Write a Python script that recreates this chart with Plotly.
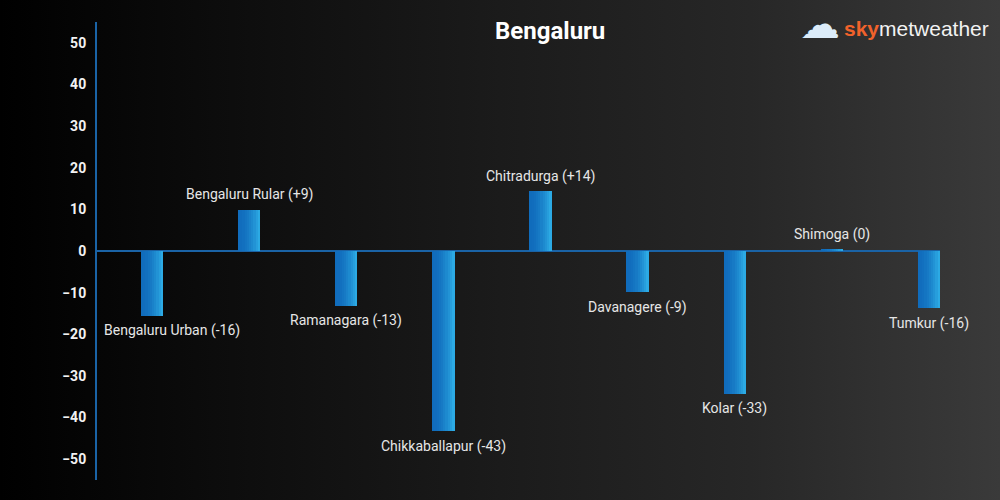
import base64
import plotly.graph_objects as go

# District rainfall departure (%), Bengaluru region
districts = [
    'Bengaluru Urban', 'Bengaluru Rular', 'Ramanagara', 'Chikkaballapur',
    'Chitradurga', 'Davanagere', 'Kolar', 'Shimoga', 'Tumkur'
]
bar_values = [-15.6, 9.9, -13.1, -43.3, 14.4, -9.9, -34.3, 0.4, -13.7]
label_values = ['-16', '+9', '-13', '-43', '+14', '-9', '-33', '0', '-16']

y_ticks = [-50, -40, -30, -20, -10, 0, 10, 20, 30, 40, 50]

# page geometry
W, H = 1000, 500
ML, MR, MT, MB = 97, 60, 22, 20
PW, PH = W - ML - MR, H - MT - MB

# dark horizontal gradient behind everything
svg = (
    '<svg xmlns="http://www.w3.org/2000/svg" width="1000" height="500" preserveAspectRatio="none">'
    '<defs><linearGradient id="g" x1="0" y1="0" x2="1" y2="0">'
    '<stop offset="0" stop-color="#000000"/>'
    '<stop offset="0.07" stop-color="#040404"/>'
    '<stop offset="0.25" stop-color="#0e0e0e"/>'
    '<stop offset="0.5" stop-color="#1b1b1b"/>'
    '<stop offset="0.75" stop-color="#272727"/>'
    '<stop offset="1" stop-color="#3a3a3a"/>'
    '</linearGradient></defs>'
    '<rect width="1000" height="500" fill="url(#g)"/></svg>'
)
bg_uri = 'data:image/svg+xml;base64,' + base64.b64encode(svg.encode()).decode()

fig = go.Figure()

# bars drawn as thin vertical slices to fake the blue left-to-right gradient
bar_w = 0.227
n_slices = 10
dark = (16, 108, 188)
light = (44, 170, 228)
for i in range(n_slices):
    t = (i / (n_slices - 1)) ** 1.8
    c = tuple(round(dark[k] + (light[k] - dark[k]) * t) for k in range(3))
    fig.add_trace(go.Bar(
        x=districts,
        y=bar_values,
        width=bar_w / n_slices + 0.002,
        offset=-bar_w / 2 + i * bar_w / n_slices,
        marker=dict(color='rgb(%d,%d,%d)' % c, line=dict(width=0)),
        hoverinfo='skip',
        showlegend=False,
    ))

annotations = []
for i, (name, val, lab) in enumerate(zip(districts, bar_values, label_values)):
    annotations.append(dict(
        x=name, y=val, xref='x', yref='y',
        text=f'{name} ({lab})',
        showarrow=False,
        yshift=15 if val >= 0 else -15,
        xshift=20 if i == 0 else 0,
        font=dict(family='Roboto', size=14, color='#e6e6e6'),
    ))

# title
annotations.append(dict(
    x=(550 - ML) / PW, y=1 + (MT - 31) / PH, xref='paper', yref='paper',
    yanchor='middle', text='<b>Bengaluru</b>',
    showarrow=False, font=dict(family='Roboto', size=24, color='#ffffff'),
))

# logo
annotations.append(dict(
    x=(842 - ML) / PW, y=1 + (MT - 29) / PH, xref='paper', yref='paper',
    xanchor='left', yanchor='middle',
    text="<b><span style='color:#f1622b'>sky</span></b>metweather",
    showarrow=False, font=dict(family='Liberation Sans', size=21, color='#f2f2f2'),
))
annotations.append(dict(
    x=(820 - ML) / PW, y=1 + (MT - 24) / PH, xref='paper', yref='paper',
    xanchor='center', yanchor='middle', text='☁',
    showarrow=False, font=dict(family='DejaVu Sans', size=40, color='#dcecf9'),
))

fig.update_layout(
    width=W, height=H,
    margin=dict(l=ML, r=MR, t=MT, b=MB),
    barmode='overlay',
    bargap=0,
    paper_bgcolor='#141414',
    plot_bgcolor='rgba(0,0,0,0)',
    showlegend=False,
    images=[dict(
        source=bg_uri, xref='paper', yref='paper',
        x=-ML / PW, y=1 + MT / PH, sizex=W / PW, sizey=H / PH,
        xanchor='left', yanchor='top', sizing='stretch', layer='below',
    )],
    xaxis=dict(
        type='category',
        range=[-0.566, 8.115],
        showticklabels=False, showgrid=False, showline=False, zeroline=False,
    ),
    yaxis=dict(
        range=[-55, 55],
        tickvals=y_ticks,
        tickfont=dict(family='Roboto', size=14, color='#f2f2f2', weight='bold'),
        ticks='outside', ticklen=6, tickcolor='rgba(0,0,0,0)',
        showgrid=False,
        showline=True, linecolor='#1a63a6', linewidth=2,
        zeroline=True, zerolinecolor='#1a63a6', zerolinewidth=2,
    ),
    annotations=annotations,
)

fig.write_html(
    'out.html',
    config={'displayModeBar': False},
    post_script="document.body.style.margin='0';document.body.style.background='#000';",
)
